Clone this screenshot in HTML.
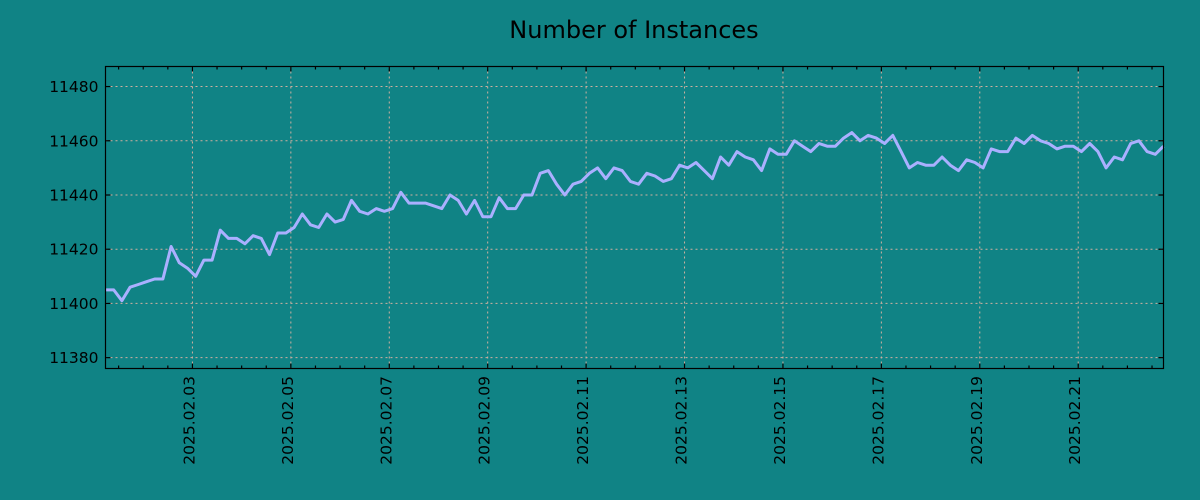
<!DOCTYPE html>
<html><head><meta charset="utf-8"><style>
body{margin:0;background:#108385;}
svg{display:block;font-family:"DejaVu Sans","Liberation Sans",sans-serif;}
</style></head><body>
<svg id="chart" width="1200" height="500" xmlns="http://www.w3.org/2000/svg">
<rect width="1200" height="500" fill="#108385"/>
<text x="634" y="38" font-size="24" text-anchor="middle" fill="#000">Number of Instances</text>
<g id="grid"></g>
<g id="ticks"></g>
<g id="ylabels"></g>
<g id="xlabels"></g>
<path id="line" fill="none" stroke="#aab0ff" stroke-width="3" stroke-linejoin="round"/>
<rect x="105.5" y="66.5" width="1058" height="302" fill="none" stroke="#000" stroke-width="1.2"/>
</svg>
<script>
const values=[11405,11405,11401,11406,11407,11408,11409,11409,11421,11415,11413,11410,11416,11416,11427,11424,11424,11422,11425,11424,11418,11426,11426,11428,11433,11429,11428,11433,11430,11431,11438,11434,11433,11435,11434,11435,11441,11437,11437,11437,11436,11435,11440,11438,11433,11438,11432,11432,11439,11435,11435,11440,11440,11448,11449,11444,11440,11444,11445,11448,11450,11446,11450,11449,11445,11444,11448,11447,11445,11446,11451,11450,11452,11449,11446,11454,11451,11456,11454,11453,11449,11457,11455,11455,11460,11458,11456,11459,11458,11458,11461,11463,11460,11462,11461,11459,11462,11456,11450,11452,11451,11451,11454,11451,11449,11453,11452,11450,11457,11456,11456,11461,11459,11462,11460,11459,11457,11458,11458,11456,11459,11456,11450,11454,11453,11459,11460,11456,11455,11458];
const startHour=5.6, stepHour=4;
const yTicks=[11380,11400,11420,11440,11460,11480];
const xTickLabels=["2025.02.03","2025.02.05","2025.02.07","2025.02.09","2025.02.11","2025.02.13","2025.02.15","2025.02.17","2025.02.19","2025.02.21"];
const xTickDays=[2,4,6,8,10,12,14,16,18,20];
const L=105.5,R=1163.5,T=66.5,B=368.5;
const xMin=startHour/24, xMax=(startHour+stepHour*(values.length-1))/24;
const yMin=11376, yMax=11487.4;
const sx=d=>L+(d-xMin)/(xMax-xMin)*(R-L);
const sy=v=>B-(v-yMin)/(yMax-yMin)*(B-T);
const NS="http://www.w3.org/2000/svg";
function mk(tag,attrs,parent){const e=document.createElementNS(NS,tag);for(const k in attrs)e.setAttribute(k,attrs[k]);document.getElementById(parent).appendChild(e);return e;}
yTicks.forEach(v=>{const y=sy(v);
 const g=mk('line',{x1:L,x2:R,y1:y,y2:y,stroke:'#d0b0a0','stroke-width':1,'stroke-dasharray':'2,3'},'grid');
 
 const t1=mk('line',{x1:L,x2:L+5,y1:y,y2:y,stroke:'#000','stroke-width':1.2},'ticks');
 
 const t2=mk('line',{x1:R-5,x2:R,y1:y,y2:y,stroke:'#000','stroke-width':1.2},'ticks');
 
 const tx=mk('text',{x:L-7,y:y+5.5,'font-size':15.5,'text-anchor':'end',fill:'#000'},'ylabels');
 tx.textContent=v;
});
for(let h=12;h/24<=xMax;h+=12){const d=h/24;if(d<xMin)continue;const x=sx(d);const major=(h%48===0);
 const a=mk('line',{x1:x,x2:x,y1:T,y2:T+(major?5:3),stroke:'#000','stroke-width':1.2},'ticks');
 
 const b=mk('line',{x1:x,x2:x,y1:B-(major?5:3),y2:B,stroke:'#000','stroke-width':1.2},'ticks');
 
}
xTickDays.forEach((d,i)=>{const x=sx(d);
 const g=mk('line',{x1:x,x2:x,y1:T,y2:B,stroke:'#d0b0a0','stroke-width':1,'stroke-dasharray':'2,3'},'grid');
 
 const tx=mk('text',{x:0,y:0,'font-size':15.5,'text-anchor':'end',fill:'#000',transform:`translate(${x+2},376) rotate(-90)`},'xlabels');
 tx.textContent=xTickLabels[i];
});
document.getElementById('line').setAttribute('d',values.map((v,i)=>(i?'L':'M')+sx((startHour+i*stepHour)/24).toFixed(1)+','+sy(v).toFixed(1)).join(''));
</script>
</body></html>
